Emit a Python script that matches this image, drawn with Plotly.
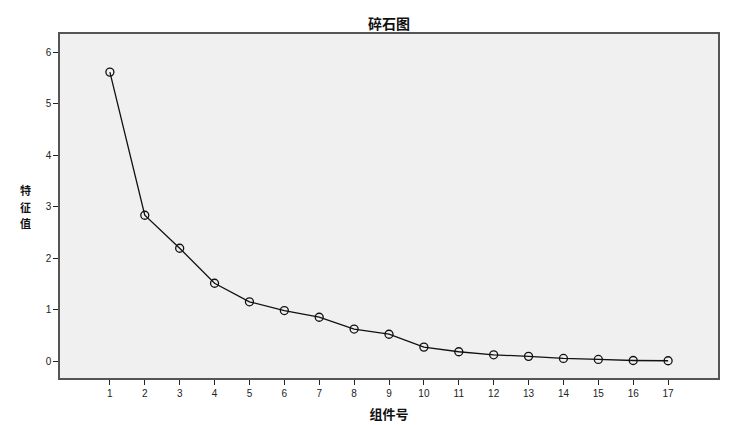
import plotly.graph_objects as go

components = list(range(1, 18))
eigenvalues = [5.61, 2.83, 2.19, 1.51, 1.15, 0.98, 0.85, 0.62, 0.52, 0.27, 0.18, 0.12, 0.09, 0.05, 0.03, 0.01, 0.005]
x_tick_labels = [str(c) for c in components]
y_tick_values = [0, 1, 2, 3, 4, 5, 6]
y_title_chars = ["特", "征", "值"]

W, H = 731, 425
ML, MR, MT, MB = 60, 13, 34, 47

fig = go.Figure()
fig.add_trace(go.Scatter(
    x=components, y=eigenvalues, mode="lines+markers",
    line=dict(color="#111111", width=1.3),
    marker=dict(symbol="circle-open", size=8, color="#111111", line=dict(width=1.3)),
    showlegend=False, hoverinfo="skip",
))

axis_common = dict(
    showgrid=False, zeroline=False, showline=True, mirror=True,
    linecolor="#555555", linewidth=1.6, automargin=False,
    ticks="outside", ticklen=5, tickcolor="#222222", tickwidth=1,
    tickfont=dict(family="Liberation Sans, Arial", size=10, color="#222222"),
)

fig.update_layout(
    width=W, height=H,
    margin=dict(l=ML, r=MR, t=MT, b=MB, autoexpand=False),
    paper_bgcolor="white", plot_bgcolor="#f0f0f0",
    title=dict(text="<b>碎石图</b>", x=(ML + (W - MR)) / 2 / W, xanchor="center",
               y=1 - 24 / H, yanchor="middle",
               font=dict(family="Noto Sans CJK SC", size=14, color="#111111")),
    xaxis=dict(range=[-0.43, 18.43], tickmode="array", tickvals=components,
               ticktext=x_tick_labels,
               title=dict(text="<b>组件号</b>", standoff=12,
                          font=dict(family="Noto Sans CJK SC", size=13, color="#111111")),
               **axis_common),
    yaxis=dict(range=[-0.33, 6.35], tickmode="array", tickvals=y_tick_values,
               ticktext=[str(v) for v in y_tick_values], **axis_common),
)

plot_h = H - MT - MB
for i, ch in enumerate(y_title_chars):
    py = 190 + i * 16.5
    fig.add_annotation(
        text=f"<b>{ch}</b>", xref="paper", yref="paper",
        x=-(ML - 25) / (W - ML - MR), xanchor="center",
        y=1 - (py - MT) / plot_h, yanchor="middle", borderpad=0,
        showarrow=False, font=dict(family="Noto Sans CJK SC", size=11, color="#111111"),
    )

fig.write_html("out.html", config={"displayModeBar": False},
               post_script="document.body.style.margin='0';")
